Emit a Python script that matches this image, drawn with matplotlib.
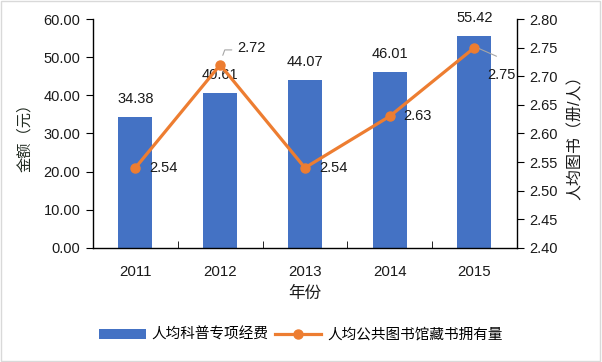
import matplotlib.pyplot as plt
import numpy as np

plt.rcParams['font.family'] = ['Liberation Sans', 'Noto Sans CJK SC']

# data
years = ['2011', '2012', '2013', '2014', '2015']
funding = [34.38, 40.61, 44.07, 46.01, 55.42]      # 人均科普专项经费 (元)
books = [2.54, 2.72, 2.54, 2.63, 2.75]             # 人均公共图书馆藏书拥有量 (册/人)

bar_color = '#4472C4'
line_color = '#ED7D31'
txt = '#1a1a1a'

fig = plt.figure(figsize=(6.02, 3.62), dpi=100)
ax1 = fig.add_axes([0.1545, 0.315, 0.704, 0.6325])
ax2 = ax1.twinx()

x = np.arange(len(years))
bars = ax1.bar(x, funding, width=0.4, color=bar_color, label='人均科普专项经费', zorder=2)
ln, = ax2.plot(x, books, color=line_color, lw=2.3, marker='o', ms=6.5,
               label='人均公共图书馆藏书拥有量', zorder=3)

ax1.set_xlim(-0.5, len(years) - 0.5)
ax1.set_ylim(0, 60)
ax1.set_yticks(np.arange(0, 61, 10))
ax1.set_yticklabels([f'{v:.2f}' for v in np.arange(0, 61, 10)])
ax2.set_ylim(2.40, 2.80)
ax2.set_yticks(np.arange(2.40, 2.801, 0.05))
ax2.set_yticklabels([f'{v:.2f}' for v in np.arange(2.40, 2.801, 0.05)])

ax1.set_xticks(x)
ax1.set_xticklabels(years)
ax1.set_xticks(np.arange(-0.5, len(years)), minor=True)
ax1.tick_params(axis='x', which='major', length=0, pad=12, labelsize=10.8, labelcolor=txt)
ax1.tick_params(axis='x', which='minor', length=5, direction='in', color='black')
ax1.tick_params(axis='y', length=5, labelsize=10.5, labelcolor=txt, pad=4)
ax2.tick_params(axis='y', length=5, labelsize=10.5, labelcolor=txt, pad=4)

for a in (ax1, ax2):
    a.spines['top'].set_visible(False)
    for s in ('left', 'right', 'bottom'):
        a.spines[s].set_color('black')
        a.spines[s].set_linewidth(1.0)
ax1.spines['right'].set_visible(False)
ax2.spines['left'].set_visible(False)
ax2.spines['bottom'].set_visible(False)

ax1.set_xlabel('年份', fontsize=12, color=txt, labelpad=5)
ax1.set_ylabel('金额（元）', fontsize=11, color='#202a20', labelpad=8)
ax2.set_ylabel('人均图书（册/人）', fontsize=11.5, color=txt, rotation=90, labelpad=7)

# bar value labels
for xi, v in zip(x, funding):
    ax1.annotate(f'{v:.2f}', (xi, v), xytext=(0, 8), textcoords='offset points',
                 ha='center', va='bottom', fontsize=10.5, color=txt)

# line value labels
offsets = [(10, 0), (12, 12), (10, 0), (10, 0), (9, -20)]
for i, (xi, v) in enumerate(zip(x, books)):
    dx, dy = offsets[i]
    ax2.annotate(f'{v:.2f}', (xi, v), xytext=(dx, dy), textcoords='offset points',
                 ha='left', va='center', fontsize=10.5, color=txt, zorder=5)
# leader lines
ax2.annotate('', (x[1] + 0.02, books[1] + 0.012), xytext=(x[1] + 0.17, books[1] + 0.026),
             arrowprops=dict(arrowstyle='-', color='#a6a6a6', lw=0.8,
                             connectionstyle='angle,angleA=0,angleB=70,rad=0'))
ax2.annotate('', (x[4] + 0.03, books[4]), xytext=(x[4] + 0.29, books[4] - 0.017),
             arrowprops=dict(arrowstyle='-', color='#a6a6a6', lw=0.8))

fig.legend(handles=[bars, ln], loc='center', bbox_to_anchor=(0.5, 0.075), ncol=2,
           frameon=False, fontsize=10.5, handlelength=3.2, columnspacing=0.4,
           handletextpad=0.4)

# light border around the chart
fig.patches.append(plt.Rectangle((0.002, 0.003), 0.995, 0.994, transform=fig.transFigure,
                                 fill=False, edgecolor='#d9d9d9', lw=1))

fig.savefig('out.png', dpi=100)
